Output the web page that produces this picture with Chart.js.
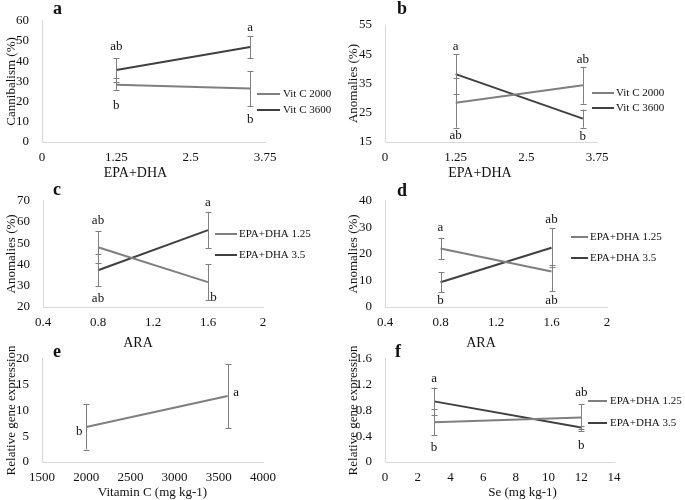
<!DOCTYPE html>
<html>
<head>
<meta charset="utf-8">
<script src="https://cdn.jsdelivr.net/npm/chart.js@4.4.1/dist/chart.umd.min.js"></script>
<style>
  html, body { margin: 0; padding: 0; background: #fff; }
  #wrap { position: relative; width: 685px; height: 500px; overflow: hidden; }
  canvas { position: absolute; }
</style>
</head>
<body>
<div id="wrap">
  <canvas id="pa" width="342" height="180" style="left:0;top:0"></canvas>
  <canvas id="pb" width="343" height="180" style="left:342px;top:0"></canvas>
  <canvas id="pc" width="342" height="170" style="left:0;top:180px"></canvas>
  <canvas id="pd" width="343" height="170" style="left:342px;top:180px"></canvas>
  <canvas id="pe" width="342" height="162" style="left:0;top:338px"></canvas>
  <canvas id="pf" width="343" height="162" style="left:342px;top:338px"></canvas>
</div>
<script>
// ---- data ----
// a: cannibalism vs EPA+DHA
const epaDhaX = [1.25, 3.5];
const cannibVitC2000 = [28.3, 26.5];
const cannibVitC2000Up = [3.2, 8.7];
const cannibVitC2000Down = [2.5, 8.7];
const cannibVitC3600 = [35.6, 47];
const cannibVitC3600Up = [5.9, 5.3];
const cannibVitC3600Down = [5.8, 5.4];
const cannibLetters = ['ab', 'b', 'a', 'b'];
const cannibLetterX = [1.25, 1.25, 3.5, 3.5];
const cannibLetterY = [47, 18, 56.5, 11];

// b: anomalies vs EPA+DHA
const anomVitC2000 = [28.4, 34.4];
const anomVitC2000Err = [8.5, 6.3];
const anomVitC3600 = [38.2, 23];
const anomVitC3600Err = [6.8, 3.1];
const anomBLetters = ['a', 'ab', 'ab', 'b'];
const anomBLetterX = [1.25, 1.25, 3.5, 3.5];
const anomBLetterY = [47.5, 17.3, 43.2, 17];

// c: anomalies vs ARA (Vit C)
const araX = [0.8, 1.6];
const anomCEpa125 = [48.1, 31.7];
const anomCEpa125Err = [7.5, 8.5];
const anomCEpa35 = [37.3, 56.2];
const anomCEpa35Err = [7.5, 8.6];
const anomCLetters = ['ab', 'ab', 'a', 'b'];
const anomCLetterX = [0.8, 0.8, 1.6, 1.64];
const anomCLetterY = [60.8, 24.2, 69.2, 24.6];

// d: anomalies vs ARA (Se)
const anomDEpa125 = [22, 13.4];
const anomDEpa125Up = [4.1, 2.6];
const anomDEpa125Down = [4.1, 7.5];
const anomDEpa35 = [9.3, 22.3];
const anomDEpa35Err = [3.7, 7.3];
const anomDLetters = ['a', 'b', 'ab', 'ab'];
const anomDLetterX = [0.8, 0.8, 1.6, 1.6];
const anomDLetterY = [29.9, 2.3, 32.9, 2.3];

// e: gene expression vs vitamin C
const vitCX = [2000, 3600];
const geneVitC = [6.8, 12.8];
const geneVitCErr = [4.4, 6.2];
const geneELetters = ['b', 'a'];
const geneELetterX = [1921, 3695];
const geneELetterY = [5.8, 13.5];

// f: gene expression vs Se
const seX = [3, 12];
const geneSeEpa125 = [0.617, 0.69];
const geneSeEpa125Err = [0.2, 0.21];
const geneSeEpa35 = [0.94, 0.535];
const geneSeEpa35Err = [0.215, 0.025];
const geneFLetters = ['a', 'b', 'ab', 'b'];
const geneFLetterX = [3, 3, 12, 12];
const geneFLetterY = [1.3, 0.22, 1.075, 0.25];

// tick labels
const xTicksEpa = [0, 1.25, 2.5, 3.75];
const xTicksAra = [0.4, 0.8, 1.2, 1.6, 2];
const xTicksVitC = [1500, 2000, 2500, 3000, 3500, 4000];
const xTicksSe = [0, 2, 4, 6, 8, 10, 12, 14];
const yTicksA = [0, 10, 20, 30, 40, 50, 60];
const yTicksB = [15, 25, 35, 45, 55];
const yTicksC = [20, 30, 40, 50, 60, 70];
const yTicksD = [0, 10, 20, 30, 40];
const yTicksE = [0, 5, 10, 15, 20];
const yTicksF = [0, 0.4, 0.8, 1.2, 1.6];

const GRAY = '#7f7f7f';
const DARK = '#404040';
const SERIF = "'Liberation Serif', 'Times New Roman', serif";
Chart.defaults.font.family = SERIF;

function axis(ticks, title, size, isX) {
  return {
    type: 'linear',
    min: ticks[0],
    max: ticks[ticks.length - 1],
    afterBuildTicks: s => { s.ticks = ticks.map(v => ({ value: v })); },
    afterFit: s => { if (isX) s.height = size; else s.width = size; },
    grid: { drawOnChartArea: false, drawTicks: false },
    border: { color: '#d9d9d9', width: 1 },
    ticks: {
      padding: isX ? 8 : 13, color: '#111', autoSkip: false, maxRotation: 0,
      font: { size: 13 }, callback: v => String(v)
    },
    // x titles are drawn by the extras plugin so they can sit off-centre like the original
    title: {
      display: !isX, text: title, color: '#111', font: { size: 13 },
      padding: { top: 4, bottom: 0 }
    }
  };
}

function panel(id, o) {
  const datasets = o.series.map(s => ({
    label: s.label,
    data: o.x.map((x, i) => ({ x: x, y: s.y[i] })),
    borderColor: s.color,
    backgroundColor: s.color,
    borderWidth: 2,
    pointRadius: 0,
    showLine: true,
    fill: false
  }));

  // error bars, letters, legend, x title and panel letter
  const extras = {
    id: 'extras',
    afterDatasetsDraw(chart) {
      const ctx = chart.ctx;
      const xs = chart.scales.x, ys = chart.scales.y;
      const area = chart.chartArea;
      ctx.save();
      ctx.strokeStyle = GRAY;
      ctx.lineWidth = 1;
      o.series.forEach(s => {
        o.x.forEach((x, i) => {
          const px = Math.round(xs.getPixelForValue(x)) + 0.5;
          const top = ys.getPixelForValue(s.y[i] + s.up[i]);
          const bot = ys.getPixelForValue(s.y[i] - s.down[i]);
          ctx.beginPath();
          ctx.moveTo(px, top); ctx.lineTo(px, bot);
          ctx.moveTo(px - 3, Math.round(top) + 0.5); ctx.lineTo(px + 3, Math.round(top) + 0.5);
          ctx.moveTo(px - 3, Math.round(bot) + 0.5); ctx.lineTo(px + 3, Math.round(bot) + 0.5);
          ctx.stroke();
        });
      });

      ctx.fillStyle = '#111';
      ctx.font = '13px ' + SERIF;
      ctx.textAlign = 'center';
      ctx.textBaseline = 'middle';
      o.letters.forEach((t, i) => {
        ctx.fillText(t, xs.getPixelForValue(o.letterX[i]), ys.getPixelForValue(o.letterY[i]));
      });

      ctx.font = o.xTitleSize + 'px ' + SERIF;
      ctx.fillText(o.xTitle, (area.left + area.right) / 2 + o.xTitleDx, chart.height - 7);

      if (o.legend) {
        ctx.font = '11px ' + SERIF;
        ctx.textAlign = 'left';
        o.series.forEach((s, i) => {
          const ly = o.legend.y[i];
          ctx.strokeStyle = s.color;
          ctx.lineWidth = 2;
          ctx.beginPath();
          ctx.moveTo(o.legend.x0, ly); ctx.lineTo(o.legend.x1, ly);
          ctx.stroke();
          ctx.fillText(s.label, o.legend.tx, ly);
        });
      }

      ctx.font = 'bold 18px ' + SERIF;
      ctx.textAlign = 'left';
      ctx.textBaseline = 'alphabetic';
      ctx.fillText(o.tag, o.tagX, o.tagY);
      ctx.restore();
    }
  };

  new Chart(document.getElementById(id), {
    type: 'scatter',
    data: { datasets },
    options: {
      responsive: false,
      animation: false,
      layout: { padding: { top: o.box.top, right: o.box.right, left: 0, bottom: 0 } },
      plugins: { legend: { display: false }, tooltip: { enabled: false } },
      scales: {
        x: axis(o.xTicks, o.xTitle, o.box.xh, true),
        y: axis(o.yTicks, o.yTitle, o.box.yw, false)
      }
    },
    plugins: [extras]
  });
}

panel('pa', {
  x: epaDhaX, xTicks: xTicksEpa, yTicks: yTicksA,
  xTitle: 'EPA+DHA', xTitleDx: -18, xTitleSize: 14, yTitle: 'Cannibalism (%)',
  series: [
    { label: 'Vit C 2000', color: GRAY, y: cannibVitC2000, up: cannibVitC2000Up, down: cannibVitC2000Down },
    { label: 'Vit C 3600', color: DARK, y: cannibVitC3600, up: cannibVitC3600Up, down: cannibVitC3600Down }
  ],
  letters: cannibLetters, letterX: cannibLetterX, letterY: cannibLetterY,
  legend: { x0: 257, x1: 280, tx: 283, y: [94, 110] },
  tag: 'a', tagX: 53, tagY: 14,
  box: { top: 19, right: 77, yw: 42, xh: 38 }
});

panel('pb', {
  x: epaDhaX, xTicks: xTicksEpa, yTicks: yTicksB,
  xTitle: 'EPA+DHA', xTitleDx: -11, xTitleSize: 14, yTitle: 'Anomalies (%)',
  series: [
    { label: 'Vit C 2000', color: GRAY, y: anomVitC2000, up: anomVitC2000Err, down: anomVitC2000Err },
    { label: 'Vit C 3600', color: DARK, y: anomVitC3600, up: anomVitC3600Err, down: anomVitC3600Err }
  ],
  letters: anomBLetters, letterX: anomBLetterX, letterY: anomBLetterY,
  legend: { x0: 250, x1: 272, tx: 274, y: [93, 108] },
  tag: 'b', tagX: 55, tagY: 14,
  box: { top: 25, right: 88, yw: 43, xh: 38 }
});

panel('pc', {
  x: araX, xTicks: xTicksAra, yTicks: yTicksC,
  xTitle: 'ARA', xTitleDx: -15, xTitleSize: 14, yTitle: 'Anomalies (%)',
  series: [
    { label: 'EPA+DHA 1.25', color: GRAY, y: anomCEpa125, up: anomCEpa125Err, down: anomCEpa125Err },
    { label: 'EPA+DHA 3.5', color: DARK, y: anomCEpa35, up: anomCEpa35Err, down: anomCEpa35Err }
  ],
  letters: anomCLetters, letterX: anomCLetterX, letterY: anomCLetterY,
  legend: { x0: 215, x1: 237, tx: 239, y: [54, 75] },
  tag: 'c', tagX: 53, tagY: 15,
  box: { top: 8, right: 79, yw: 43, xh: 43 }
});

panel('pd', {
  x: araX, xTicks: xTicksAra, yTicks: yTicksD,
  xTitle: 'ARA', xTitleDx: -15, xTitleSize: 14, yTitle: 'Anomalies (%)',
  series: [
    { label: 'EPA+DHA 1.25', color: GRAY, y: anomDEpa125, up: anomDEpa125Up, down: anomDEpa125Down },
    { label: 'EPA+DHA 3.5', color: DARK, y: anomDEpa35, up: anomDEpa35Err, down: anomDEpa35Err }
  ],
  letters: anomDLetters, letterX: anomDLetterX, letterY: anomDLetterY,
  legend: { x0: 229, x1: 246, tx: 248, y: [57, 78] },
  tag: 'd', tagX: 55, tagY: 16,
  box: { top: 8, right: 78, yw: 43, xh: 43 }
});

panel('pe', {
  x: vitCX, xTicks: xTicksVitC, yTicks: yTicksE,
  xTitle: 'Vitamin C (mg kg-1)', xTitleDx: 0, xTitleSize: 13, yTitle: 'Relative gene expression',
  series: [
    { label: '', color: GRAY, y: geneVitC, up: geneVitCErr, down: geneVitCErr }
  ],
  letters: geneELetters, letterX: geneELetterX, letterY: geneELetterY,
  legend: null,
  tag: 'e', tagX: 53, tagY: 19,
  box: { top: 13, right: 79, yw: 42, xh: 38 }
});

panel('pf', {
  x: seX, xTicks: xTicksSe, yTicks: yTicksF,
  xTitle: 'Se (mg kg-1)', xTitleDx: 23, xTitleSize: 13, yTitle: 'Relative gene expression',
  series: [
    { label: 'EPA+DHA 1.25', color: GRAY, y: geneSeEpa125, up: geneSeEpa125Err, down: geneSeEpa125Err },
    { label: 'EPA+DHA 3.5', color: DARK, y: geneSeEpa35, up: geneSeEpa35Err, down: geneSeEpa35Err }
  ],
  letters: geneFLetters, letterX: geneFLetterX, letterY: geneFLetterY,
  legend: { x0: 246, x1: 265, tx: 268, y: [63, 85] },
  tag: 'f', tagX: 53, tagY: 19,
  box: { top: 13, right: 71, yw: 43, xh: 38 }
});
</script>
</body>
</html>
